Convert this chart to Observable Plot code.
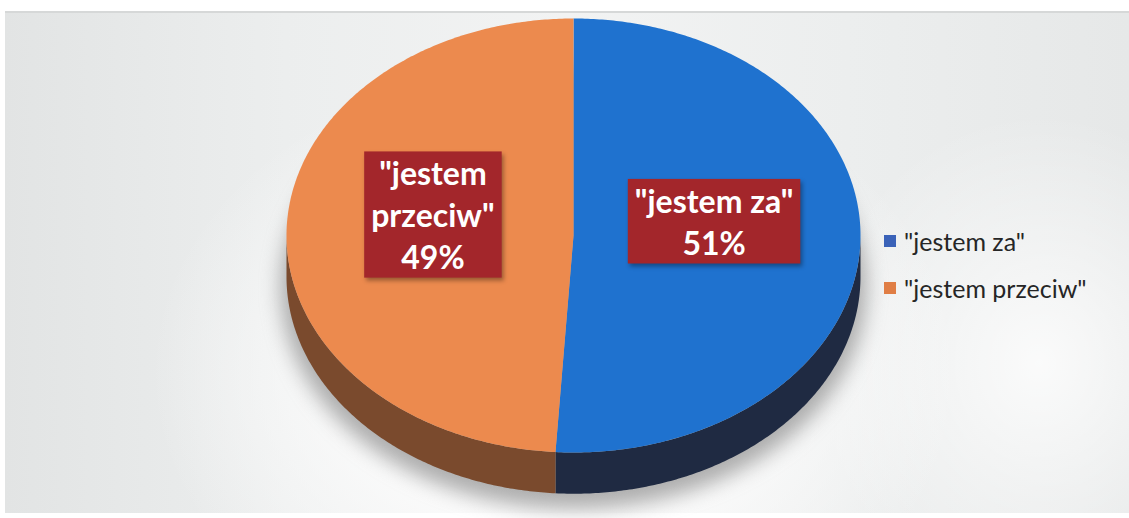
<!DOCTYPE html>
<html><head><meta charset="utf-8">
<script src="https://cdn.jsdelivr.net/npm/d3@7"></script>
<script src="https://cdn.jsdelivr.net/npm/@observablehq/plot@0.6"></script>
<style>
html,body{margin:0;padding:0;background:#fff;overflow:hidden;}
#chart{position:relative;width:1129px;height:518px;}
#bg{position:absolute;left:5px;top:11px;right:0;bottom:5px;border-top:2px solid #d6d8d8;
  background:
   radial-gradient(ellipse 36% 62% at 49% 72%, #ffffff 0%, #fbfbfb 45%, rgba(255,255,255,0) 100%),
   radial-gradient(ellipse 20% 50% at 92% 70%, rgba(255,255,255,0.8) 0%, rgba(255,255,255,0) 100%),
   linear-gradient(90deg,#e2e4e4 0%,#eceeee 25%,#f2f3f3 50%,#eceeee 75%,#e6e8e8 100%);}
#chart svg{position:absolute;left:0;top:0;display:block;background:transparent;}
#legend{position:absolute;left:884px;top:223px;font-family:Lato,"Open Sans",sans-serif;font-size:25px;color:#262626;}
#legend .item{display:flex;align-items:center;height:36px;margin-bottom:11px;white-space:nowrap;}
#legend .sw{width:12px;height:12px;margin-right:8px;flex:none;}
</style></head><body><div id="chart"><div id="bg"></div></div>
<script>
// ---- data ----
const categories = ['"jestem za"', '"jestem przeciw"'];
const values = [51, 49];
const labels = ['"jestem za"\n51%', '"jestem\nprzeciw"\n49%'];
const faceColors = ["#1f72cf", "#ec8a4e"];
const sideColors = ["#1f2a42", "#7a4a2d"];
const legendColors = ["#3a62b8", "#e07e45"];
const labelFill = "#a3262b";

// ---- geometry (unit-circle space; angles clockwise from 12 o'clock) ----
const W = 1129, H = 518;
const depth = 0.19;
const total = d3.sum(values);
let acc = 0;
const slices = categories.map((c, i) => {
  const a0 = acc / total * 2 * Math.PI; acc += values[i];
  const a1 = acc / total * 2 * Math.PI;
  return {category: c, value: values[i], a0, a1, mid: (a0 + a1) / 2, label: labels[i]};
});
const pt = (a, r = 1, dy = 0) => ({x: Math.sin(a) * r, y: Math.cos(a) * r - dy});
function arc(a0, a1, r, dy) {
  const n = Math.max(2, Math.ceil((a1 - a0) / 0.01));
  return d3.range(n + 1).map(k => pt(a0 + (a1 - a0) * k / n, r, dy));
}
const faceData = slices.flatMap(s =>
  [pt(0, 0), ...arc(s.a0, s.a1, 1, 0)].map(p => ({...p, category: s.category})));
const sideData = slices.flatMap((s, i) => {
  const lo = Math.max(s.a0, Math.PI / 2), hi = Math.min(s.a1, 3 * Math.PI / 2);
  if (lo >= hi) return [];
  return [...arc(lo, hi, 1, 0), ...arc(lo, hi, 1, depth).reverse()]
    .map(p => ({...p, category: s.category}));
});
const shadowData = arc(0, 2 * Math.PI, 1.02, depth + 0.05);
const labelData = slices.map(s => {const p = pt(s.mid, 0.49); return {...s, lx: p.x, ly: p.y + 0.085};});

const plot = Plot.plot({
  width: W, height: H,
  margin: 0,
  x: {domain: [-573 / 287, (W - 573) / 287], axis: null},
  y: {domain: [(235 - H) / 217, 235 / 217], axis: null},
  color: {domain: categories, range: faceColors},
  style: {background: "transparent", overflow: "visible"},
  marks: [
    Plot.line(shadowData, {x: "x", y: "y", fill: "#7a7a7a", fillOpacity: 0.6, stroke: "none", curve: "linear-closed"}),
    Plot.line(sideData.filter(d => d.category === categories[0]), {x: "x", y: "y", fill: sideColors[0], stroke: "none", curve: "linear-closed"}),
    Plot.line(sideData.filter(d => d.category === categories[1]), {x: "x", y: "y", fill: sideColors[1], stroke: "none", curve: "linear-closed"}),
    Plot.line(faceData, {x: "x", y: "y", z: "category", fill: "category", stroke: "none", curve: "linear-closed"}),
    Plot.text(labelData, {x: "lx", y: "ly", text: "label", fill: "white", fontSize: 32, fontWeight: "bold",
      fontFamily: "Lato, 'Open Sans', sans-serif", lineHeight: 1.3})
  ]
});
const chart = document.getElementById("chart");
chart.appendChild(plot);

const groups = plot.querySelectorAll(":scope > g");
// blur shadow (first mark)
d3.select(groups[0]).style("filter", "blur(10px)");
// label boxes behind texts (last mark)
d3.select(groups[groups.length - 1]).selectAll("text").each(function () {
  const b = this.getBBox();
  d3.select(this.parentNode).insert("rect", () => this)
    .attr("transform", this.getAttribute("transform"))
    .attr("x", b.x - 7).attr("y", b.y - 2).attr("width", b.width + 14).attr("height", b.height + 4)
    .attr("fill", labelFill).style("filter", "drop-shadow(2px 3px 2px rgba(0,0,0,0.35))");
});

// legend from the color scale
const color = plot.scale("color");
const ld = d3.select(chart).append("div").attr("id", "legend");
color.domain.forEach((c, i) => {
  const it = ld.append("div").attr("class", "item");
  it.append("div").attr("class", "sw").style("background", legendColors[i]);
  it.append("span").text(c);
});
</script></body></html>
